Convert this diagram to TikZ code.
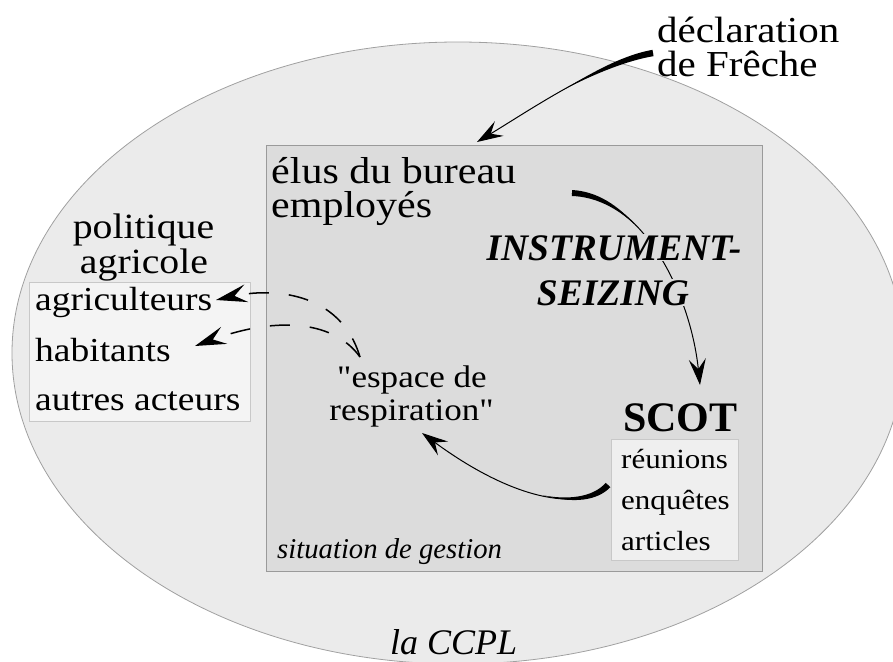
\documentclass[tikz,border=0pt]{standalone}
\usepackage{fontspec}
\setmainfont{Liberation Serif}
\newfontfamily\garam[FakeStretch=1.12]{Liberation Serif}
\setmonofont[FakeStretch=1.12]{Liberation Serif}
\usetikzlibrary{arrows.meta,calc}
\definecolor{ellfill}{HTML}{EBEBEB}
\definecolor{elldraw}{HTML}{A0A0A0}
\definecolor{boxfill}{HTML}{DCDCDC}
\definecolor{boxdraw}{HTML}{9A9A9A}
\definecolor{lfill}{HTML}{F4F4F4}
\definecolor{ldraw}{HTML}{C8C8C8}
\definecolor{sfill}{HTML}{EFEFEF}
\newcommand\fsz[1]{\fontsize{#1}{#1}\selectfont}
\newcommand\sq{{\ttfamily"}}
\newcommand\taperfill[7]{%
  \coordinate (tA) at (#1); \coordinate (tB) at (#2);
  \coordinate (tC) at (#3); \coordinate (tD) at (#4);
  \coordinate (tq1) at ($(tA)!#5!(tB)$);
  \coordinate (tq2) at ($(tB)!#5!(tC)$);
  \coordinate (tq3) at ($(tC)!#5!(tD)$);
  \coordinate (tr1) at ($(tq1)!#5!(tq2)$);
  \coordinate (tr2) at ($(tq2)!#5!(tq3)$);
  \coordinate (ts) at ($(tr1)!#5!(tr2)$);
  \fill ($(tA)!#6!90:(tq1)$) .. controls ($(tq1)!#6!90:(tr1)$) and ($(tr1)!#7!90:(ts)$) .. (ts)
        .. controls ($(tr1)!#7!-90:(ts)$) and ($(tq1)!#6!-90:(tr1)$) .. ($(tA)!#6!-90:(tq1)$) -- cycle;
}
\begin{document}
\begin{tikzpicture}[x=1pt,y=-1pt,
  lbl/.style={inner sep=0pt, anchor=base west},
  clbl/.style={inner sep=0pt, anchor=base},
  arr/.style={line width=1pt, -{Stealth[length=26pt,width=17pt,inset=10pt]}},
  darr/.style={line width=1.5pt, dash pattern=on 20pt off 20pt, -{Stealth[length=31pt,width=18pt,inset=12pt]}},
  instr/.style={inner xsep=1pt, inner ysep=1pt, anchor=base, fill=boxfill, font=\bfseries\itshape\fsz{37.5}}
]
\useasboundingbox (0,0) rectangle (893,661);
% containers
\draw[elldraw, fill=ellfill, line width=0.8pt] (458,353) ellipse [x radius=446pt, y radius=311pt];
\draw[boxdraw, fill=boxfill, line width=0.8pt] (266,145) rectangle (762,571);
\draw[ldraw, fill=lfill, line width=0.8pt] (29,282) rectangle (250,421);
\draw[ldraw, fill=sfill, line width=0.8pt] (611,439) rectangle (738,560);

% texts
\node[lbl, font=\garam\fsz{36.6}] (decl1) at (657,43) {déclaration};
\node[lbl, font=\garam\fsz{36.6}] (decl2) at (657,77) {de Frêche};
\node[lbl, font=\garam\fsz{37.5}] (elus1) at (271,183) {élus du bureau};
\node[lbl, font=\garam\fsz{37.5}] (elus2) at (271,217) {employés};
\node[clbl, font=\garam\fsz{35.5}] (pol1) at (143.5,238) {politique};
\node[clbl, font=\garam\fsz{35.5}] (pol2) at (144,273) {agricole};
\node[lbl, font=\garam\fsz{33.5}] (agri) at (35,310) {agriculteurs};
\node[lbl, font=\garam\fsz{33.5}] (hab) at (35,361) {habitants};
\node[lbl, font=\garam\fsz{33.5}] (autres) at (35,410) {autres acteurs};
\node[clbl, font=\garam\fsz{31.3}] (esp1) at (412,387) {\sq espace de};
\node[clbl, font=\garam\fsz{31.3}] (esp2) at (411.5,420) {respiration\sq};
\node[lbl, font=\bfseries\fsz{42}] (scot) at (623,431) {SCOT};
\node[lbl, font=\garam\fsz{27.7}] (reu) at (621,468) {réunions};
\node[lbl, font=\garam\fsz{27.7}] (enq) at (621,509) {enquêtes};
\node[lbl, font=\garam\fsz{27.7}] (art) at (621,550) {articles};
\node[lbl, font=\itshape\fsz{28.7}] (sit) at (277,558) {situation de gestion};
\node[lbl, font=\itshape\fsz{36}] (ccpl) at (390,654) {la CCPL};

% connector end points
\coordinate (frOut) at (653,53);
\coordinate (boxIn) at (477,142);
\coordinate (elOut) at (572,193);
\coordinate (scIn) at (700,385);
\coordinate (scOut) at (608,485);
\coordinate (espIn) at (422,433);
\coordinate (espTop) at (360,357);
\coordinate (agriIn) at (216,300);
\coordinate (habIn) at (195,346);

% dashed arrows
\draw[darr] (espTop) .. controls (340,290) and (270,288) .. (agriIn);
\draw[darr] (espTop) .. controls (335,322) and (280,315) .. (habIn);

% solid tapered arrows
\taperfill{653,53}{600,62}{530,110}{477,142}{0.5}{3.2pt}{1.4pt}
\draw[arr] (frOut) .. controls (600,62) and (530,110) .. (boxIn);
\taperfill{572,193}{640,196}{690,290}{700,385}{0.35}{3pt}{1.2pt}
\draw[arr] (elOut) .. controls (640,196) and (690,290) .. (scIn);
\taperfill{608,485}{585,510}{520,505}{422,433}{0.5}{3.2pt}{1.4pt}
\draw[arr] (scOut) .. controls (585,510) and (520,505) .. (espIn);

% instrument-seizing over the arrow
\node[instr] (instr1) at (614,260) {INSTRUMENT-};
\node[instr] (instr2) at (613,305) {SEIZING};
\end{tikzpicture}
\end{document}
